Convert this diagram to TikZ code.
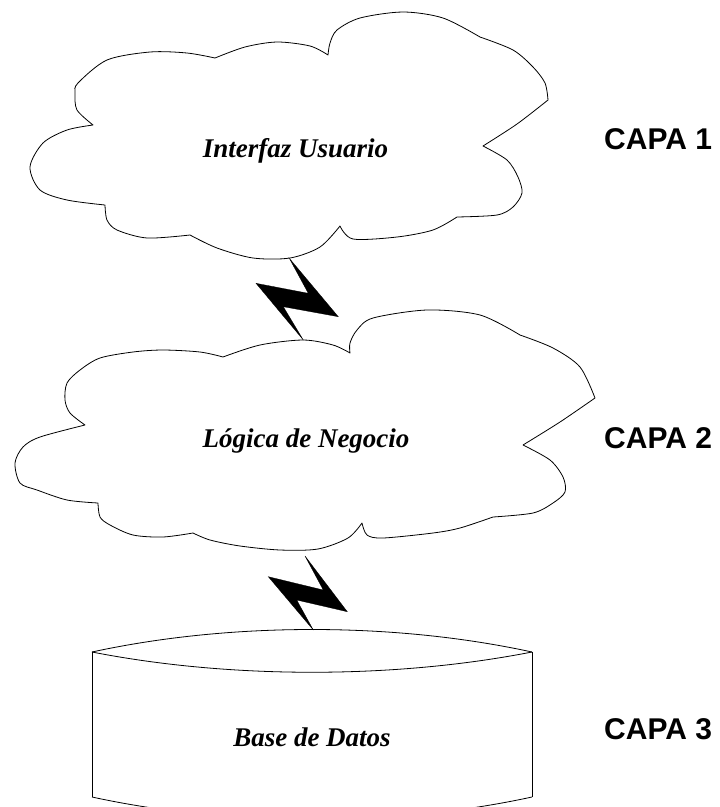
\documentclass[tikz,border=0pt]{standalone}
\usepackage{fontspec}
\setmainfont{Liberation Serif}
\newfontfamily\capafont{Liberation Sans}
\tikzset{
  outline/.style={draw=black, line width=0.8pt, line join=round},
  bolt/.style={fill=black, draw=black, line width=0.3pt, line join=miter},
  layertext/.style={font=\fontsize{27}{30}\selectfont\bfseries\itshape, inner sep=0pt, anchor=base},
  capatext/.style={font=\fontsize{30}{33}\selectfont\capafont\bfseries, inner sep=0pt, anchor=base west}
}
\begin{document}
\begin{tikzpicture}[x=1pt, y=-1pt]
\useasboundingbox (0,0) rectangle (720,807);
\clip (0,0) rectangle (720,807);

% Cloud 1
\draw[outline]
  plot[smooth] coordinates {(215,58) (245,47) (277,42) (310,46) (328,55)}
  -- plot[smooth] coordinates {(328,55) (330,43) (337,30) (360,18) (403,12) (443,18) (480,37)}
  -- plot[smooth] coordinates {(480,37) (513,50) (533,67) (545,83) (548,100)}
  -- plot[smooth] coordinates {(548,100) (517,124) (483,146)}
  -- plot[smooth] coordinates {(483,146) (507,160) (518,177) (522,193) (513,207) (497,215) (457,217)}
  -- plot[smooth] coordinates {(457,217) (433,230) (397,237) (353,239) (340,226)}
  -- plot[smooth] coordinates {(340,226) (320,247) (290,258) (253,258) (217,248) (190,235)}
  -- plot[smooth] coordinates {(190,235) (147,238) (117,230) (107,220) (105,205)}
  -- plot[smooth] coordinates {(105,205) (67,200) (40,190) (30,167) (43,143) (67,130) (93,125)}
  -- plot[smooth] coordinates {(93,125) (77,110) (75,93) (78,83) (107,60) (150,52) (187,53) (215,58)}
  -- cycle;

% Cloud 2
\draw[outline]
  plot[smooth] coordinates {(223,357) (260,345) (303,340) (333,345) (350,353)}
  -- plot[smooth] coordinates {(350,353) (350,343) (357,330) (373,318) (427,310) (480,315) (520,335)}
  -- plot[smooth] coordinates {(520,335) (553,348) (580,367) (595,398)}
  -- plot[smooth] coordinates {(595,398) (560,422) (523,445)}
  -- plot[smooth] coordinates {(523,445) (550,460) (563,477) (565,492) (553,503) (533,513) (493,517)}
  -- plot[smooth] coordinates {(493,517) (460,528) (433,533) (383,538) (367,535) (362,523)}
  -- plot[smooth] coordinates {(362,523) (348,538) (318,549) (280,550) (240,546) (210,540) (193,533)}
  -- plot[smooth] coordinates {(193,533) (163,537) (133,535) (110,525) (100,517) (98,503)}
  -- plot[smooth] coordinates {(98,503) (67,500) (37,490) (20,483) (15,463) (23,447) (40,437) (85,425)}
  -- plot[smooth] coordinates {(85,425) (70,413) (65,400) (67,383) (80,370) (100,358) (133,352) (163,350) (200,352) (223,357)}
  -- cycle;

% Cylinder
\draw[outline] (92,652) .. controls (230,622) and (394,622) .. (532,652);
\draw[outline] (92,652) .. controls (230,679) and (394,679) .. (532,652);
\draw[outline] (92,652) -- (92,797);
\draw[outline] (532,652) -- (532,797);
\draw[outline] (92,797) .. controls (230,827) and (394,827) .. (532,797);

% Lightning bolts
\fill[bolt] (289.3,258.3) -- (338.3,316.7) -- (283.3,306.7) -- (303.3,340) -- (256,283.3) -- (308.3,293.3) -- cycle;
\fill[bolt] (305,556) -- (347.3,611.7) -- (296.7,600) -- (313.3,630) -- (268.3,576.7) -- (323.3,590) -- cycle;

% Texts
\node[layertext] (t1) at (295.5,157) {Interfaz Usuario};
\node[layertext] (t2) at (306,447) {Lógica de Negocio};
\node[layertext] (t3) at (312,746) {Base de Datos};
\node[capatext] (c1) at (604,149) {CAPA 1};
\node[capatext] (c2) at (604,448) {CAPA 2};
\node[capatext] (c3) at (604,739) {CAPA 3};
\end{tikzpicture}
\end{document}
